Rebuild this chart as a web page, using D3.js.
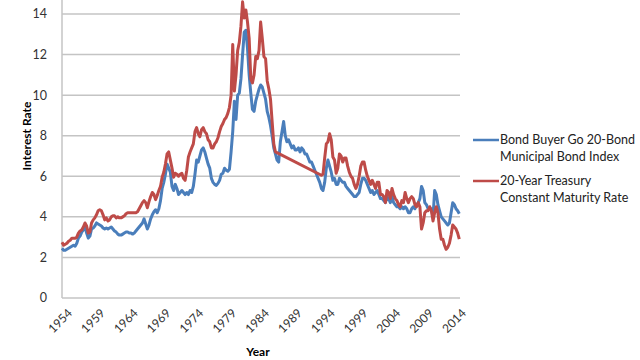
<!DOCTYPE html>
<html>
<head>
<meta charset="utf-8">
<script src="https://cdn.jsdelivr.net/npm/d3@7"></script>
<style>
  body { margin: 0; background: #fff; }
  svg { display: block; font-family: Lato, "Open Sans", sans-serif; }
</style>
</head>
<body>
<div id="chart"></div>
<script>
// quarterly readings, 1954 Q1 .. 2014 Q3
let startYear = 1954
let yTicks = [0, 2, 4, 6, 8, 10, 12, 14]
let xTicks = [1954, 1959, 1964, 1969, 1974, 1979, 1984, 1989, 1994, 1999, 2004, 2009, 2014]

let muniRate = [
  2.45, 2.35, 2.35, 2.40,  2.45, 2.50, 2.55, 2.60,  2.55, 2.70, 2.95, 3.05,  3.25, 3.35, 3.55, 3.20,
  2.95, 3.05, 3.40, 3.45,  3.55, 3.70, 3.65, 3.60,  3.55, 3.45, 3.40, 3.45,  3.40, 3.45, 3.50, 3.40,
  3.30, 3.25, 3.15, 3.10,  3.10, 3.15, 3.20, 3.25,  3.25, 3.20, 3.20, 3.15,  3.20, 3.30, 3.40, 3.50,
  3.60, 3.70, 3.90, 3.65,  3.40, 3.60, 3.90, 4.10,  4.25, 4.35, 4.20, 4.40,  4.80, 5.40, 5.70, 6.10,
  6.60, 6.40, 6.20, 5.50,  5.30, 5.60, 5.40, 5.10,  5.20, 5.30, 5.20, 5.10,  5.20, 5.10, 5.30, 5.20,
  5.50, 6.10, 6.80, 6.70,  7.00, 7.30, 7.40, 7.20,  6.90, 6.60, 6.40, 5.90,  5.70, 5.60, 5.55, 5.65,
  5.80, 6.10, 6.15, 6.40,  6.30, 6.25, 6.35, 7.20,  8.20, 9.70, 8.80, 10.00, 10.10, 10.80, 12.00, 13.10,
  13.20, 12.30, 11.00, 10.10, 9.30, 9.20, 9.70, 10.00, 10.30, 10.50, 10.40, 10.10, 9.80, 9.20, 8.90, 8.50,
  8.00, 7.40, 7.10, 6.80,  6.70, 7.70, 8.20, 8.70,  8.00, 7.70, 7.80, 7.60,  7.40, 7.50, 7.30, 7.30,
  7.40, 7.20, 7.40, 7.30,  7.10, 7.10, 6.90, 6.70,  6.70, 6.50, 6.30, 6.10,  5.90, 5.70, 5.40, 5.30,
  5.70, 6.40, 6.80, 6.50,  6.20, 5.80, 5.90, 5.60,  5.60, 5.90, 5.80, 5.70,  5.70, 5.50, 5.40, 5.30,
  5.20, 5.10, 5.00, 5.00,  5.10, 5.20, 5.60, 5.90,  5.90, 5.80, 5.60, 5.40,  5.20, 5.30, 5.10, 5.20,
  5.30, 5.10, 4.90, 4.90,  4.80, 4.70, 5.00, 4.90,  4.70, 5.00, 4.70, 4.60,  4.50, 4.50, 4.40, 4.50,
  4.40, 4.50, 4.40, 4.20,  4.20, 4.40, 4.50, 4.40,  4.60, 4.70, 4.90, 5.50,  5.30, 4.70, 4.60, 4.40,
  4.40, 4.40, 4.00, 5.30,  5.10, 4.60, 4.30, 4.00,  3.90, 3.80, 3.70, 3.60,  3.70, 4.20, 4.70, 4.60,
  4.40, 4.30, 4.15
]

// 20-year treasury was not published 1987-1993, Excel just joins the gap
let treasuryRate = [
  2.75, 2.60, 2.65, 2.70,  2.80, 2.85, 2.95, 2.95,  2.95, 3.00, 3.20, 3.30,  3.35, 3.50, 3.70, 3.55,
  3.20, 3.25, 3.70, 3.85,  3.95, 4.10, 4.30, 4.35,  4.30, 4.10, 3.85, 3.95,  3.80, 3.85, 4.00, 4.05,
  4.05, 3.95, 4.00, 3.95,  3.95, 4.00, 4.05, 4.15,  4.20, 4.20, 4.20, 4.20,  4.20, 4.20, 4.25, 4.40,
  4.55, 4.70, 4.80, 4.70,  4.45, 4.75, 5.00, 5.20,  5.10, 4.85, 5.05, 5.30,  5.50, 5.95, 6.20, 6.60,
  7.10, 7.20, 6.80, 6.40,  5.95, 6.15, 6.10, 6.00,  6.10, 6.15, 5.90, 5.80,  6.30, 6.95, 7.20, 7.40,
  7.60, 8.20, 8.40, 8.10,  7.95, 8.30, 8.40, 8.20,  8.10, 7.80, 7.70, 7.40,  7.40, 7.60, 7.70, 7.90,
  8.20, 8.45, 8.60, 8.80,  8.90, 9.10, 9.40, 10.00, 12.50, 10.20, 11.00, 12.20, 12.60, 13.40, 14.60, 13.80,
  14.20, 13.60, 12.80, 10.80, 10.60, 11.00, 11.90, 11.80, 12.20, 13.60, 12.80, 11.90, 11.80, 10.70, 10.30, 9.80,
  8.70, 7.60, 7.20, null,  null, null, null, null,  null, null, null, null,  null, null, null, null,
  null, null, null, null,  null, null, null, null,  null, null, null, null,  null, null, 6.05, 6.10,
  6.90, 7.60, 7.70, 8.10,  7.80, 6.95, 6.80, 6.15,  6.40, 7.10, 7.00, 6.70,  6.90, 6.90, 6.50, 6.20,
  6.00, 5.90, 5.60, 5.40,  5.60, 6.00, 6.50, 6.70,  6.70, 6.30, 6.00, 5.80,  5.60, 5.80, 5.60, 5.40,
  5.70, 5.70, 5.10, 5.10,  5.00, 4.70, 5.30, 5.20,  4.90, 5.40, 5.10, 4.90,  4.80, 4.60, 4.50, 4.80,
  4.70, 5.20, 4.90, 4.70,  4.90, 5.00, 4.90, 4.60,  4.50, 4.70, 4.50, 3.40,  3.70, 4.20, 4.30, 4.30,
  4.50, 4.30, 3.80, 4.20,  4.50, 4.20, 3.40, 2.90,  2.90, 2.60, 2.40, 2.50,  2.70, 3.10, 3.60, 3.50,
  3.40, 3.20, 2.90
]

let seriesNames = [
  ['Bond Buyer Go 20-Bond', 'Municipal Bond Index'],
  ['20-Year Treasury', 'Constant Maturity Rate']
]
let colors = ['#4a7ebb', '#be4b48']

let width = 640, height = 360

let svg = d3.select('#chart')
.append('svg')
.attr('width', width)
.attr('height', height)

let x = d3.scaleLinear()
.domain([1954, 2014])
.range([62, 456])

let y = d3.scaleLinear()
.domain([0, 14])
.range([298, 14])

let gridRight = 460

// gridlines
svg.append('g')
.selectAll('line')
.data(yTicks)
.join('line')
.attr('x1', x(1954))
.attr('x2', gridRight)
.attr('y1', d => y(d))
.attr('y2', d => y(d))
.style('stroke', '#c4c4c4')
.style('stroke-width', 1.5)

// left axis line goes to the top edge
svg.append('line')
.attr('x1', x(1954)).attr('x2', x(1954))
.attr('y1', 0).attr('y2', y(0))
.style('stroke', '#c4c4c4')
.style('stroke-width', 1.5)

svg.append('g')
.selectAll('text')
.data(yTicks)
.join('text')
.attr('x', 47)
.attr('y', d => y(d))
.attr('dy', '0.35em')
.style('text-anchor', 'end')
.style('font-size', '12.5px')
.style('fill', '#333')
.text(d => d)

svg.append('g')
.selectAll('text')
.data(xTicks)
.join('text')
.attr('transform', d => `translate(${x(d) + 5},${308}) rotate(-45)`)
.attr('dy', '0.7em')
.style('text-anchor', 'end')
.style('font-size', '12px')
.style('fill', '#333')
.text(d => d)

svg.append('text')
.attr('transform', `translate(31,136) rotate(-90)`)
.style('text-anchor', 'middle')
.style('font-size', '12px')
.style('font-weight', 'bold')
.text('Interest Rate')

svg.append('text')
.attr('x', 258)
.attr('y', 356)
.style('text-anchor', 'middle')
.style('font-size', '12px')
.style('font-weight', 'bold')
.text('Year')

let toPoints = arr => arr.map((v, i) => ({ t: startYear + i / 4, v: v })).filter(d => d.v != null)

let line = d3.line()
.x(d => x(d.t))
.y(d => y(d.v))

svg.append('path')
.attr('d', line(toPoints(muniRate)))
.attr('fill', 'none')
.style('stroke', colors[0])
.style('stroke-width', 3)
.style('stroke-linejoin', 'round')

svg.append('path')
.attr('d', line(toPoints(treasuryRate)))
.attr('fill', 'none')
.style('stroke', colors[1])
.style('stroke-width', 3)
.style('stroke-linejoin', 'round')

// legend
let legend = svg.append('g')
.selectAll('g')
.data(seriesNames)
.join('g')
.attr('transform', (d, i) => `translate(473,${140 + i * 41})`)

legend.append('line')
.attr('x1', 0).attr('x2', 26)
.attr('y1', 0).attr('y2', 0)
.style('stroke', (d, i) => colors[i])
.style('stroke-width', 2.5)

legend.append('text')
.attr('x', 27)
.attr('y', 0)
.style('font-size', '12.5px')
.style('fill', '#222')
.selectAll('tspan')
.data(d => d)
.join('tspan')
.attr('x', 27)
.attr('dy', (d, i) => i == 0 ? '0.35em' : '1.3em')
.text(d => d)
</script>
</body>
</html>
